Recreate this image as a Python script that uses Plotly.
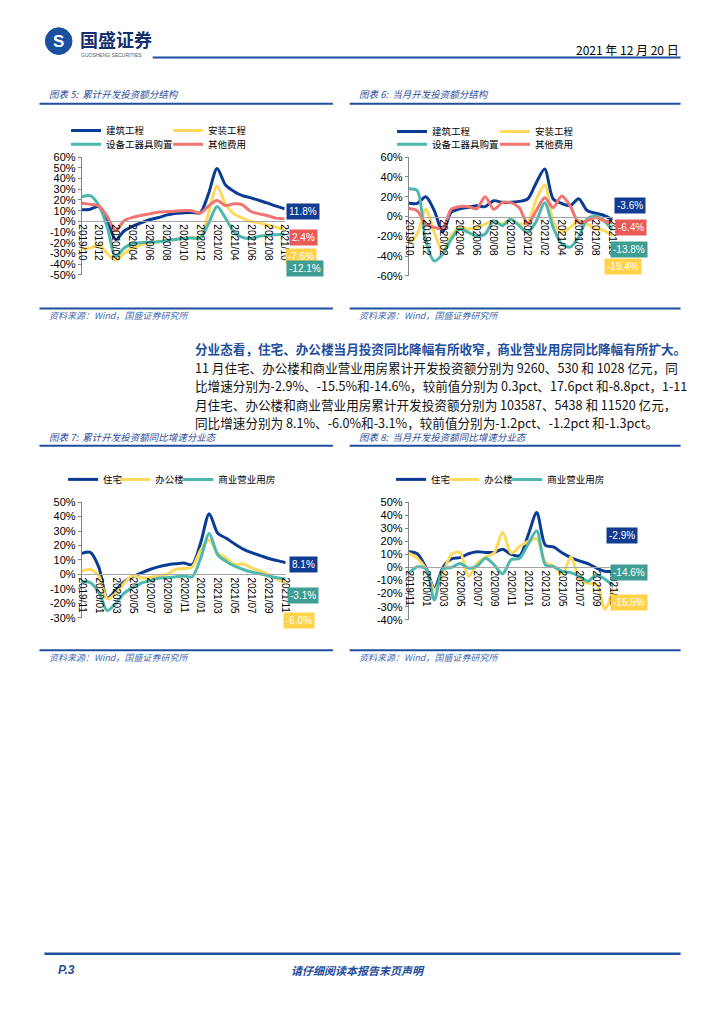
import plotly.graph_objects as go

W, H = 724, 1024

# ---------------- data ----------------
months_a = ["2019/10", "2019/11", "2019/12", "2020/01", "2020/02", "2020/03", "2020/04",
            "2020/05", "2020/06", "2020/07", "2020/08", "2020/09", "2020/10", "2020/11",
            "2020/12", "2021/01", "2021/02", "2021/03", "2021/04", "2021/05", "2021/06",
            "2021/07", "2021/08", "2021/09", "2021/10"]
months_b = ["2019/11", "2019/12", "2020/01", "2020/02", "2020/03", "2020/04", "2020/05",
            "2020/06", "2020/07", "2020/08", "2020/09", "2020/10", "2020/11", "2020/12",
            "2021/01", "2021/02", "2021/03", "2021/04", "2021/05", "2021/06", "2021/07",
            "2021/08", "2021/09", "2021/10", "2021/11"]

# 图表5 累计开发投资额分结构 (%)
c5_construction = [10.8, 11.4, 13.8, 1.0, -17, -9, -4.6, -1.5, 1.5, 3.4, 5.8, 7.3, 7.9,
                   8.3, 8.0, 26, 49.5, 34, 28, 24, 22, 19.5, 17, 14.2, 11.8]
c5_install = [-26, -25, -22, -30, -36, -30, -25, -22, -20, -19, -18, -17, -16, -15, -15,
              8, 33, 16, 7, 3, 0, -1.5, -3.5, -5.5, -7.6]
c5_equipment = [23, 24, 15, -5, -33, -25, -21, -20, -19.5, -19, -18, -17, -16, -15.5,
                -16, -2, 14, 3, -10, -15, -16, -14, -13, -12.5, -12.1]
c5_other = [17, 16, 14.5, 4.6, -9, 0.6, 3.7, 5.5, 7, 8.6, 9, 9.5, 10, 10, 7.7, 14.5,
            19.4, 14.8, 16.5, 15.4, 9.2, 7, 5.2, 3, 2.4]

# 图表6 当月开发投资额分结构 (%)
c6_construction = [13.3, 13.3, 20, 6, -15.7, 4.3, 7.7, 9.3, 11, 10, 16, 14.3, 14.3, 15.3,
                   17.7, 34, 48, 17.7, 13.3, 11, 18, 6, 3.3, 1, -3.6]
c6_install = [-27.7, -17.7, 7.3, -16, -36, -19, -11, -12.7, -11, -7.7, -4.3, -7.7, -2.7,
              -7.7, -6, 17, 32, -4.3, -16, -11, -4.3, -7.7, -12.7, -14.3, -19.4]
c6_equipment = [28, 26, -25, -45, -38, -23, -12.7, -16, -20, -17.7, -4.3, -9.3, -2.7,
                -9.3, -16, -5, 14, -11, -27.7, -31, -21, -2.7, 0.7, -4.3, -13.8]
c6_other = [8, 5.7, -7.7, -11, -12, 7.3, 10, 10, 8, 20, 7.3, 14, 14, 9, -7.7, 5.7, 19, 9,
            20.7, 10.7, -6, -4.3, -1, -4.3, -6.4]

# 图表7 累计开发投资额同比增速分业态 (%)
c7_residential = [14.5, 15.2, 5, -16.5, -11, -5, -1.5, 1, 3.4, 5.2, 6.5, 7.3, 7.8, 6.8,
                  22, 42, 28.5, 25, 21, 17.5, 15, 13, 11, 9.5, 8.1]
c7_office = [2.3, 3.4, -1, -17, -13, -6, -1, -2.3, -2.3, -1, 0, 3.4, 4, 5.2, 17, 23.8,
             14.7, 11.3, 6.8, 7.3, 4.5, 2.3, 0, -3.4, -6.0]
c7_commercial = [-5.2, -5.7, -12.5, -25, -20, -13, -9, -6, -4.5, -2.7, -2.3, -1.8, -1.1,
                 -1.6, 11.3, 28.3, 13.6, 9, 5.7, 3.4, 1.6, 0.5, -1.1, -2.3, -3.1]

# 图表8 当月开发投资额同比增速分业态 (%)
c8_residential = [12, 10.5, 0, -16, 0, 6.5, 7.5, 10.5, 12, 11.5, 11.5, 14, 10, 9, 25, 42,
                  17, 15.5, 11, 7.5, 5, 3, -0.5, -3, -2.9]
c8_office = [11, 7, -1, -17, -5, 10, 11.5, -7, 3, 8, 11, 27, 11, 16, 20, 22, 4, 1, -5, 8,
             -9, -12, -13, -32, -15.5]
c8_commercial = [-4.5, 0.5, -1, -25, -1, 0, 3, -0.5, 1, 7, 2, -5, 6, 7, 18, 28, 2, 0.5,
                 -3, -4, -7, -10.5, -5.5, -9, -14.6]

names_struct = ["建筑工程", "安装工程", "设备工器具购置", "其他费用"]
names_type = ["住宅", "办公楼", "商业营业用房"]

y5_ticks = [-50, -40, -30, -20, -10, 0, 10, 20, 30, 40, 50, 60]
y6_ticks = [-60, -40, -20, 0, 20, 40, 60]
y7_ticks = [-30, -20, -10, 0, 10, 20, 30, 40, 50]
y8_ticks = [-40, -30, -20, -10, 0, 10, 20, 30, 40, 50]

# ---------------- styling ----------------
NAVY = "#0B3C94"
YELLOW = "#FFD95C"
TEAL = "#4DB8AE"
RED = "#F07470"
BOX_NAVY = "#123C92"
BOX_RED = "#E95A57"
BOX_YELLOW = "#FFD24A"
BOX_TEAL = "#3F9E94"
BLUE_TXT = "#1F4E9C"
CJK = "Noto Sans CJK SC"
LAT = "Liberation Sans"


def px_x(v):
    return v / W


def px_y(v):
    return 1 - v / H


fig = go.Figure()
layout = dict(width=W, height=H, margin=dict(l=0, r=0, t=0, b=0),
              paper_bgcolor="white", plot_bgcolor="white", showlegend=True)

charts = [
    dict(k="", months=months_a, xdom=(78, 284), ydom=(272, 153), rng=(-50, 60), ticks=y5_ticks,
         series=[(names_struct[0], c5_construction, NAVY, "legend"),
                 (names_struct[1], c5_install, YELLOW, "legend"),
                 (names_struct[2], c5_equipment, TEAL, "legend2"),
                 (names_struct[3], c5_other, RED, "legend2")]),
    dict(k="2", months=months_a, xdom=(410, 617), ydom=(273, 153), rng=(-60, 60), ticks=y6_ticks,
         series=[(names_struct[0], c6_construction, NAVY, "legend3"),
                 (names_struct[1], c6_install, YELLOW, "legend3"),
                 (names_struct[2], c6_equipment, TEAL, "legend4"),
                 (names_struct[3], c6_other, RED, "legend4")]),
    dict(k="3", months=months_b, xdom=(78, 285), ydom=(619, 502), rng=(-30, 50), ticks=y7_ticks,
         series=[(names_type[0], c7_residential, NAVY, "legend5"),
                 (names_type[1], c7_office, YELLOW, "legend6"),
                 (names_type[2], c7_commercial, TEAL, "legend7")]),
    dict(k="4", months=months_b, xdom=(410, 618), ydom=(621, 502), rng=(-40, 50), ticks=y8_ticks,
         series=[(names_type[0], c8_residential, NAVY, "legend8"),
                 (names_type[1], c8_office, YELLOW, "legend9"),
                 (names_type[2], c8_commercial, TEAL, "legend10")]),
]

for c in charts:
    k = c["k"]
    y_bot, y_top = px_y(c["ydom"][0]), px_y(c["ydom"][1])
    r0, r1 = c["rng"]
    zero_pos = y_bot + (0 - r0) / (r1 - r0) * (y_top - y_bot)
    layout["xaxis" + k] = dict(
        domain=[px_x(c["xdom"][0]), px_x(c["xdom"][1])], type="category",
        range=[0, len(c["months"]) - 1], anchor="free", position=zero_pos,
        showline=True, linecolor="#A6A6A6", linewidth=1, ticks="",
        showgrid=False, zeroline=False, tickangle=90,
        tickvals=c["months"][::2], ticktext=c["months"][::2],
        tickfont=dict(family=LAT, size=10, color="#000"))
    layout["yaxis" + k] = dict(
        domain=[y_bot, y_top], range=[r0, r1], anchor="x" + k,
        showline=True, linecolor="#868686", linewidth=1, ticks="outside",
        ticklen=3, tickcolor="#868686", showgrid=False, zeroline=False,
        tickvals=c["ticks"], ticktext=[f"{v}%" for v in c["ticks"]],
        tickfont=dict(family=LAT, size=11, color="#000"))
    for name, data, color, lg in c["series"]:
        fig.add_trace(go.Scatter(
            x=c["months"], y=data, name=name, mode="lines",
            line=dict(color=color, width=3, shape="spline", smoothing=0.8),
            xaxis="x" + k, yaxis="y" + k, legend=lg, hoverinfo="skip"))


def legend_at(x, y, ew=None):
    d = dict(x=px_x(x), y=px_y(y), xanchor="left", yanchor="middle",
             orientation="h", bgcolor="rgba(0,0,0,0)", borderwidth=0, tracegroupgap=0,
             itemclick=False, itemdoubleclick=False,
             font=dict(family=CJK, size=9.5, color="#000"))
    if ew is not None:
        d["entrywidth"] = ew
        d["entrywidthmode"] = "pixels"
    return d


layout["legend"] = legend_at(62, 126, 57)
layout["legend2"] = legend_at(62, 140, 57)
layout["legend3"] = legend_at(393, 127, 58)
layout["legend4"] = legend_at(393, 140, 58)
# one-row legends of charts 7 and 8: one legend per entry
layout["legend5"] = legend_at(59, 479)
layout["legend6"] = legend_at(112, 479)
layout["legend7"] = legend_at(176, 479)
layout["legend8"] = legend_at(392, 479)
layout["legend9"] = legend_at(446, 479)
layout["legend10"] = legend_at(510, 479)

shapes = []
annotations = []


def hline(x0, x1, y, color=BLUE_TXT, width=2):
    shapes.append(dict(type="line", xref="paper", yref="paper", x0=px_x(x0), x1=px_x(x1),
                       y0=px_y(y), y1=px_y(y), line=dict(color=color, width=width)))


def text(x, y, s, size=10, color="#000", anchor="left", family=CJK):
    annotations.append(dict(x=px_x(x), y=px_y(y), xref="paper", yref="paper", text=s,
                            showarrow=False, xanchor=anchor, yanchor="middle",
                            font=dict(family=family, size=size, color=color)))


def box(x, y, value, bg):
    annotations.append(dict(x=px_x(x), y=px_y(y), xref="paper", yref="paper",
                            text=f"{value:.1f}%", showarrow=False, xanchor="center",
                            yanchor="middle", bgcolor=bg, borderpad=2,
                            font=dict(family=LAT, size=10, color="white")))


# header
shapes.append(dict(type="circle", xref="paper", yref="paper",
                   x0=px_x(41), x1=px_x(68), y0=px_y(49), y1=px_y(22),
                   fillcolor="#1B4FA0", line=dict(color="#1B4FA0", width=1)))
text(54.5, 35.5, "<b>S</b>", size=17, color="white", anchor="center", family=LAT)
text(74, 33, "<b>国盛证券</b>", size=18, color="#14306E")
text(75, 49.5, "GUOSHENG SECURITIES", size=5, color="#555", family=LAT)
text(686, 44, "2021 年 12 月 20 日", size=12, color="#000", anchor="right")
hline(150, 686, 52, width=2)

# figure titles
text(43, 89, "<i>图表 5:  累计开发投资额分结构</i>", size=9.5, color=BLUE_TXT)
text(357, 89, "<i>图表 6:  当月开发投资额分结构</i>", size=9.5, color=BLUE_TXT)
hline(35, 333, 99)
hline(350, 686, 99)
text(43, 436, "<i>图表 7:  累计开发投资额同比增速分业态</i>", size=9.5, color=BLUE_TXT)
text(357, 436, "<i>图表 8:  当月开发投资额同比增速分业态</i>", size=9.5, color=BLUE_TXT)
hline(35, 333, 445)
hline(350, 686, 445)

# sources
hline(35, 333, 306)
hline(350, 686, 306)
hline(35, 333, 652)
hline(350, 686, 652)
for xx, yy in [(43, 313), (357, 313), (43, 659), (357, 659)]:
    text(xx, yy, "<i>资料来源：Wind，国盛证券研究所</i>", size=9, color="#3F6AB0")

# end-value boxes
box(303, 207.5, c5_construction[-1], BOX_NAVY)
box(303, 234, c5_other[-1], BOX_RED)
box(301, 253, c5_install[-1], BOX_YELLOW)
box(305, 266, c5_equipment[-1], BOX_TEAL)

box(635, 202, c6_construction[-1], BOX_NAVY)
box(636, 224, c6_other[-1], BOX_RED)
box(628, 264, c6_install[-1], BOX_YELLOW)
box(634, 246, c6_equipment[-1], BOX_TEAL)

box(303, 565, c7_residential[-1], BOX_NAVY)
box(303, 596, c7_commercial[-1], BOX_TEAL)
box(299, 622, c7_office[-1], BOX_YELLOW)

box(627, 536, c8_residential[-1], BOX_NAVY)
box(634, 573, c8_commercial[-1], BOX_TEAL)
box(634, 604, c8_office[-1], BOX_YELLOW)

# paragraph
para_head = "分业态看，住宅、办公楼当月投资同比降幅有所收窄，商业营业用房同比降幅有所扩大。"
para_lines = [
    "11 月住宅、办公楼和商业营业用房累计开发投资额分别为 9260、530 和 1028 亿元，同",
    "比增速分别为-2.9%、-15.5%和-14.6%，较前值分别为 0.3pct、17.6pct 和-8.8pct，1-11",
    "月住宅、办公楼和商业营业用房累计开发投资额分别为 103587、5438 和 11520 亿元，",
    "同比增速分别为 8.1%、-6.0%和-3.1%，较前值分别为-1.2pct、-1.2pct 和-1.3pct。",
]
text(191, 347, f"<b>{para_head}</b>", size=12.6, color=BLUE_TXT)
for i, ln in enumerate(para_lines):
    text(191, 366 + i * 18.5, ln, size=12.6, color="#111")

# footer
hline(40, 686, 959, width=2.5)
text(52, 975, "<b><i>P.3</i></b>", size=12, color=BLUE_TXT, family=LAT)
text(358, 975, "<b><i>请仔细阅读本报告末页声明</i></b>", size=11, color=BLUE_TXT, anchor="center")

layout["shapes"] = shapes
layout["annotations"] = annotations
fig.update_layout(**layout)
fig.write_html("out.html", config={"displayModeBar": False},
               post_script="document.body.style.margin='0';document.body.style.overflow='hidden';")
